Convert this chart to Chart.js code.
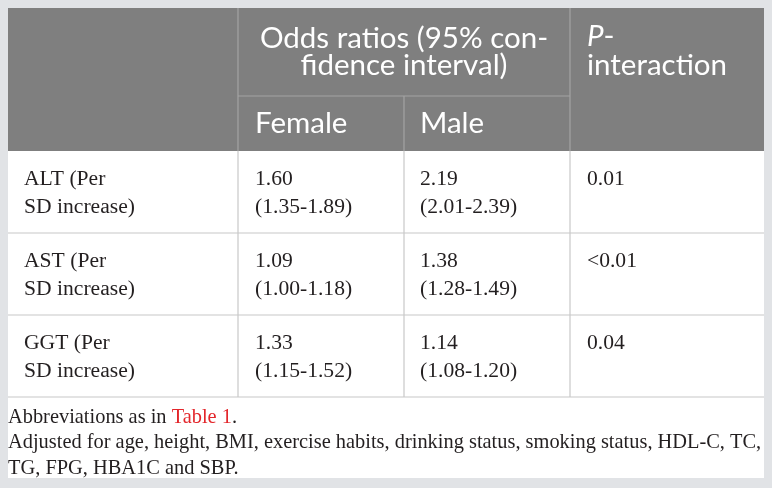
<!DOCTYPE html>
<html>
<head>
<meta charset="utf-8">
<script src="https://cdn.jsdelivr.net/npm/chart.js@4"></script>
<style>
  html, body { margin: 0; padding: 0; background: #e1e3e6; }
  #wrap { width: 772px; height: 488px; }
</style>
</head>
<body>
<div id="wrap"><canvas id="tabela"></canvas></div>
<script>
// dados da tabela
const rowLabels = [['ALT (Per', 'SD increase)'], ['AST (Per', 'SD increase)'], ['GGT (Per', 'SD increase)']];
const femaleOR = [1.60, 1.09, 1.33];
const femaleLow = [1.35, 1.00, 1.15];
const femaleHigh = [1.89, 1.18, 1.52];
const maleOR = [2.19, 1.38, 1.14];
const maleLow = [2.01, 1.28, 1.08];
const maleHigh = [2.39, 1.49, 1.20];
const pInteraction = ['0.01', '<0.01', '0.04'];

const headerTitle = ['Odds ratios (95% con-', 'fidence interval)'];
const subHeaders = ['Female', 'Male'];
const footnotes = ['Abbreviations as in ', 'Table 1', '.'];
const footnote2 = ['Adjusted for age, height, BMI, exercise habits, drinking status, smoking status, HDL-C, TC,', 'TG, FPG, HBA1C and SBP.'];

// layout (coordenadas na escala do grafico)
const colX = [8, 238, 404, 570, 764];
const headTop = 8, subLine = 96, headBottom = 151, rowH = 82, frameBottom = 478;

const tablePlugin = {
  id: 'tablePlugin',
  beforeDraw(chart) {
    const ctx = chart.ctx;
    const sx = v => chart.scales.x.getPixelForValue(v);
    const sy = v => chart.scales.y.getPixelForValue(v);
    const rect = (x0, y0, x1, y1, c) => {
      ctx.fillStyle = c;
      ctx.fillRect(sx(x0), sy(y0), sx(x1) - sx(x0), sy(y1) - sy(y0));
    };
    const line = (x0, y0, x1, y1, c) => {
      ctx.strokeStyle = c;
      ctx.lineWidth = 1.2;
      ctx.beginPath();
      ctx.moveTo(sx(x0), sy(y0));
      ctx.lineTo(sx(x1), sy(y1));
      ctx.stroke();
    };
    const text = (t, x, y, font, c, align) => {
      ctx.font = font;
      ctx.fillStyle = c;
      ctx.textAlign = align || 'left';
      ctx.textBaseline = 'middle';
      ctx.fillText(t, sx(x), sy(y));
    };

    ctx.save();
    rect(0, 0, 772, 488, '#e1e3e6');
    rect(colX[0], headTop, colX[4], frameBottom, '#ffffff');
    rect(colX[0], headTop, colX[4], headBottom, '#7f7f7f');

    // linhas do cabecalho
    const headLine = '#a3a3a3';
    line(colX[1], headTop, colX[1], headBottom, headLine);
    line(colX[3], headTop, colX[3], headBottom, headLine);
    line(colX[1], subLine, colX[3], subLine, headLine);
    line(colX[2], subLine, colX[2], headBottom, headLine);

    // linhas do corpo
    const bodyLine = '#c8c8c8';
    const bodyBottom = headBottom + rowH * rowLabels.length;
    for (let i = 1; i <= rowLabels.length; i++) {
      const y = headBottom + rowH * i;
      line(colX[0], y, colX[4], y, bodyLine);
    }
    for (let j = 1; j <= 3; j++) {
      line(colX[j], headBottom, colX[j], bodyBottom, bodyLine);
    }

    // textos do cabecalho
    const headFont = '29.5px Lato';
    const white = '#ffffff';
    text(headerTitle[0], (colX[1] + colX[3]) / 2, 38, headFont, white, 'center');
    text(headerTitle[1], (colX[1] + colX[3]) / 2, 65, headFont, white, 'center');
    text(subHeaders[0], colX[1] + 17, 123, headFont, white);
    text(subHeaders[1], colX[2] + 16, 123, headFont, white);
    ctx.font = 'italic 29.5px Lato';
    const pw = ctx.measureText('P').width;
    text('P', colX[3] + 17, 36, 'italic 29.5px Lato', white);
    text('-', colX[3] + 17 + pw, 36, headFont, white);
    text('interaction', colX[3] + 17, 65, headFont, white);

    // corpo
    const bodyFont = '21.6px "Liberation Serif"';
    const ink = '#231f20';
    for (let i = 0; i < rowLabels.length; i++) {
      const top = headBottom + rowH * i;
      const y1 = top + 28, y2 = top + 56;
      text(rowLabels[i][0], colX[0] + 16, y1, bodyFont, ink);
      text(rowLabels[i][1], colX[0] + 16, y2, bodyFont, ink);
      text(femaleOR[i].toFixed(2), colX[1] + 17, y1, bodyFont, ink);
      text('(' + femaleLow[i].toFixed(2) + '-' + femaleHigh[i].toFixed(2) + ')', colX[1] + 17, y2, bodyFont, ink);
      text(maleOR[i].toFixed(2), colX[2] + 16, y1, bodyFont, ink);
      text('(' + maleLow[i].toFixed(2) + '-' + maleHigh[i].toFixed(2) + ')', colX[2] + 16, y2, bodyFont, ink);
      text(pInteraction[i], colX[3] + 17, y1, bodyFont, ink);
    }

    // notas de rodape
    const noteFont = '20.4px "Liberation Serif"';
    ctx.font = noteFont;
    let x = colX[0];
    text(footnotes[0], x, 418, noteFont, ink);
    x += ctx.measureText(footnotes[0]).width;
    text(footnotes[1], x, 418, noteFont, '#e3262b');
    x += ctx.measureText(footnotes[1]).width;
    text(footnotes[2], x, 418, noteFont, ink);
    text(footnote2[0], colX[0], 443, noteFont, ink);
    text(footnote2[1], colX[0], 469, noteFont, ink);
    ctx.restore();
  }
};

new Chart(document.getElementById('tabela'), {
  type: 'scatter',
  data: { datasets: [{ data: [] }] },
  options: {
    responsive: true,
    maintainAspectRatio: false,
    animation: false,
    layout: { padding: 0 },
    plugins: { legend: { display: false }, tooltip: { enabled: false } },
    scales: {
      x: { type: 'linear', min: 0, max: 772, display: false },
      y: { type: 'linear', min: 0, max: 488, reverse: true, display: false }
    }
  },
  plugins: [tablePlugin]
});
</script>
</body>
</html>
